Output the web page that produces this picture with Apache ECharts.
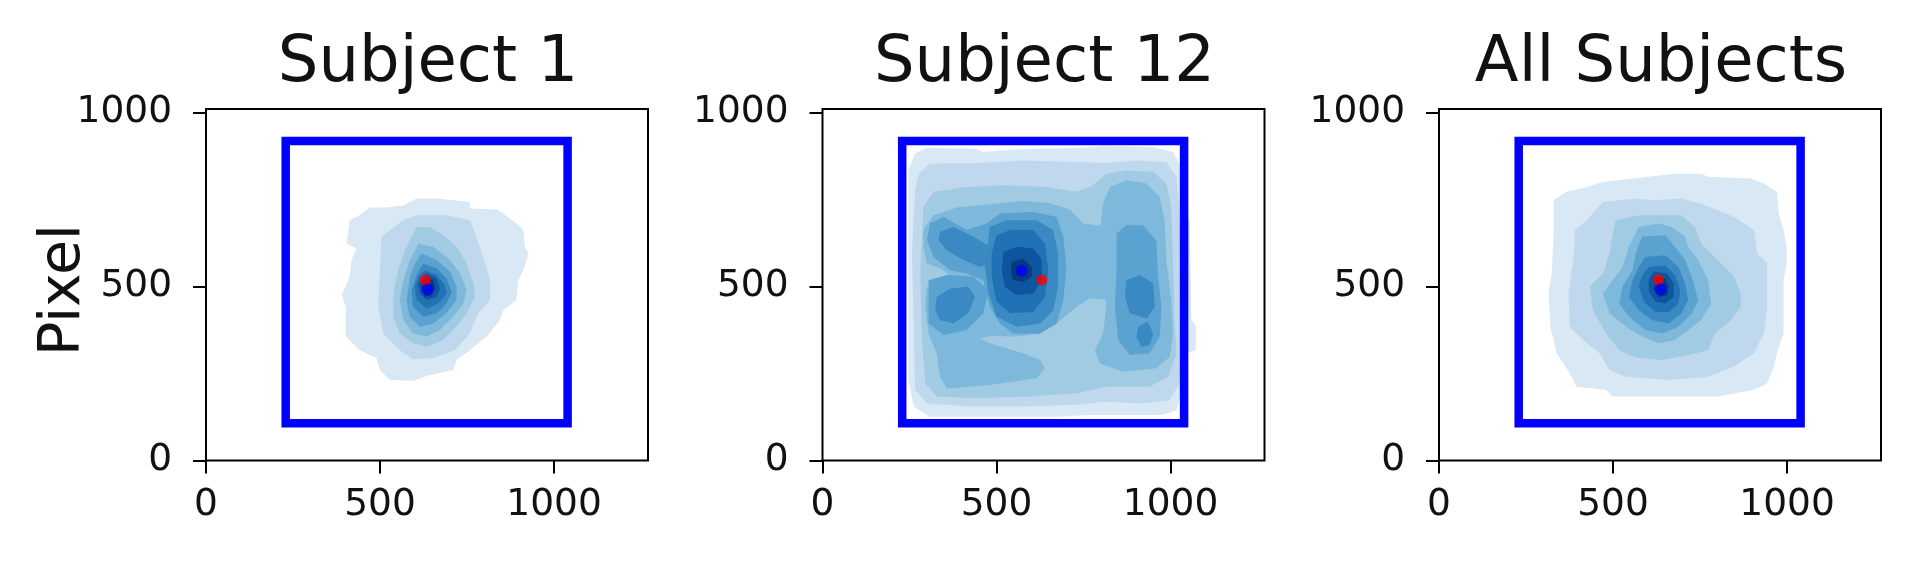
<!DOCTYPE html>
<html><head><meta charset="utf-8">
<script src="https://cdn.jsdelivr.net/npm/echarts@6/dist/echarts.min.js"></script>
<style>html,body{margin:0;padding:0;background:#fff}#c{width:1920px;height:579px}</style>
</head><body><div id="c"></div>
<script>
// ---------- data ----------
const panelTitles = ['Subject 1', 'Subject 12', 'All Subjects'];
const yAxisTitle = 'Pixel';
const xTicks = [0, 500, 1000];
const yTicks = [0, 500, 1000];
const xMax = 1270;
const yMax = 1010;
// KDE fill colours, level 1 (outermost) .. level 9 (peak)
const levelColors = ['#d9e8f5', '#c0d8ed', '#a1cbe2', '#7eb8da', '#5aa2cf', '#3b89c2', '#2171b5', '#0d559f', '#083a7a'];
// stimulus box corners (x, y)
const boxX = [229, 1039, 1039, 229, 229];
const boxY = [107, 107, 918, 918, 107];
// red target point and blue mean-gaze point per panel
const targetPoint = [630, 519];
const gazeS1 = [637, 491];
const gazeS12 = [572, 545];
const gazeAll = [637, 491];
// contour polygons: [level, [[x,y],...]]
const contoursS1 = [
 [1, [[413,690],[404,623],[433,609],[418,576],[413,528],[390,475],[402,442],[402,356],[442,317],[490,294],[500,260],[528,231],[595,229],[643,246],[710,260],[720,289],[758,317],[806,356],[845,404],[854,432],[892,461],[897,518],[916,557],[926,595],[916,614],[912,662],[892,681],[854,710],[835,721],[758,724],[758,743],[663,753],[605,753],[567,733],[519,727],[471,727],[433,700]]],
 [2, [[504,643],[567,690],[605,705],[691,705],[758,690],[773,652],[797,585],[816,518],[816,461],[782,423],[758,365],[715,317],[653,294],[595,291],[557,317],[509,365],[495,442],[500,557]]],
 [3, [[605,671],[643,671],[682,647],[720,614],[749,566],[768,509],[773,470],[749,423],[720,384],[682,346],[634,327],[595,337],[557,365],[538,413],[538,480],[552,547],[576,614]]],
 [4, [[610,623],[653,614],[701,576],[730,537],[749,490],[739,451],[710,413],[672,375],[634,356],[595,365],[567,404],[557,461],[567,518],[586,576]]],
 [5, [[619,595],[663,576],[701,542],[720,499],[720,461],[691,423],[653,394],[615,384],[586,413],[576,461],[586,528],[600,566]]],
 [6, [[624,566],[663,552],[691,523],[706,485],[691,451],[663,423],[624,413],[595,442],[591,490],[605,533]]],
 [7, [[629,547],[663,533],[686,504],[691,480],[667,451],[634,437],[605,461],[600,499],[610,528]]],
 [8, [[634,537],[663,523],[672,494],[663,470],[634,461],[615,480],[610,509]]],
 [9, [[634,528],[653,518],[658,494],[648,475],[629,470],[619,494],[622,518]]]
];
const contoursS12 = [
 [1, [[247,834],[266,882],[300,899],[443,896],[462,886],[510,891],[596,896],[749,899],[806,903],[950,901],[1007,886],[1031,843],[1036,738],[1055,690],[1060,404],[1074,384],[1072,317],[1041,308],[1036,212],[1017,145],[978,131],[768,131],[673,126],[481,126],[309,126],[262,155],[247,231]]],
 [2, [[266,777],[276,824],[309,853],[443,855],[577,862],[730,858],[816,855],[902,862],[988,858],[1017,815],[1026,710],[1036,404],[1041,308],[1026,222],[998,174],[921,164],[806,169],[730,160],[577,155],[424,155],[300,164],[266,203],[262,404],[257,595]]],
 [3, [[290,729],[319,772],[414,786],[529,791],[644,786],[730,772],[778,791],[816,824],[873,834],[950,829],[988,796],[1002,729],[1007,576],[1012,384],[1017,308],[993,241],[940,212],[816,212],[730,193],[596,184],[434,179],[328,184],[295,222],[285,365],[281,547]]],
 [4, [[290,662],[319,705],[386,727],[481,736],[577,746],[653,740],[711,721],[749,681],[826,671],[826,461],[768,466],[730,442],[673,394],[625,365],[558,356],[481,358],[453,351],[481,337],[577,308],[625,289],[639,265],[615,236],[481,217],[357,207],[338,241],[328,308],[305,365],[295,442],[300,499],[338,518],[362,537],[338,552],[300,566],[290,614]]],
 [4, [[797,662],[806,738],[826,786],[873,805],[931,796],[969,757],[983,690],[988,576],[1002,461],[1007,365],[998,298],[959,265],[864,255],[797,279],[783,317],[806,365],[816,442],[806,547]]],
 [5, [[309,681],[348,700],[414,662],[472,681],[510,710],[606,714],[673,700],[692,643],[701,556],[692,461],[673,394],[625,365],[548,365],[510,394],[481,442],[462,518],[414,537],[367,547],[319,585],[300,633]]],
 [5, [[305,518],[357,533],[434,528],[477,490],[462,423],[414,375],[348,360],[305,394]]],
 [5, [[845,652],[873,676],[921,676],[959,633],[964,528],[974,442],[969,356],[940,308],[883,303],[850,346],[840,442],[845,547]]],
 [6, [[481,671],[529,690],[615,690],[663,662],[677,595],[677,499],[663,432],[625,394],[558,384],[500,413],[477,480],[467,556]]],
 [6, [[338,657],[376,671],[434,643],[481,614],[486,566],[453,556],[405,576],[357,604],[333,633]]],
 [6, [[328,470],[367,494],[419,499],[438,470],[419,423],[376,394],[338,404],[324,432]]],
 [6, [[873,518],[912,533],[950,509],[955,442],[931,408],[883,423],[869,470]]],
 [6, [[907,384],[935,399],[950,365],[940,332],[916,327],[902,356]]],
 [7, [[500,647],[539,662],[606,662],[639,623],[649,547],[639,470],[606,427],[539,423],[500,456],[486,528],[486,595]]],
 [8, [[520,600],[558,614],[606,609],[630,576],[630,518],[606,480],[558,475],[524,499],[515,547]]],
 [9, [[544,571],[577,580],[601,556],[601,528],[577,513],[548,518],[541,542]]]
];
const contoursAll = [
 [1, [[329,748],[367,772],[424,786],[471,800],[556,810],[678,824],[754,824],[773,815],[896,810],[933,796],[971,772],[976,710],[990,662],[999,614],[999,566],[990,518],[990,365],[971,308],[962,270],[943,222],[905,203],[801,184],[631,184],[499,184],[480,203],[395,212],[376,250],[338,308],[320,384],[315,480],[324,537],[329,643]]],
 [2, [[390,662],[424,690],[471,743],[565,753],[612,748],[697,753],[754,738],[801,719],[848,700],[905,662],[914,595],[943,566],[943,442],[933,365],[905,308],[848,270],[773,241],[660,231],[537,241],[490,260],[461,308],[414,346],[376,384],[372,480],[386,576],[390,633]]],
 [3, [[508,690],[574,705],[697,705],[735,671],[754,623],[801,576],[848,528],[867,480],[867,442],[839,404],[792,365],[773,317],[716,303],[641,289],[565,296],[518,317],[480,365],[442,432],[433,499],[471,537],[490,595],[499,652]]],
 [4, [[574,671],[631,681],[669,671],[707,643],[716,614],[745,576],[773,518],[782,451],[754,404],[716,375],[678,346],[631,337],[584,356],[537,384],[490,423],[471,480],[499,518],[527,556],[546,614]]],
 [5, [[584,643],[650,647],[678,614],[707,576],[726,528],[745,461],[726,423],[688,384],[641,365],[593,375],[546,413],[518,451],[527,499],[556,547],[565,595]]],
 [6, [[593,585],[650,590],[688,556],[707,509],[716,461],[697,423],[660,394],[612,404],[574,432],[546,470],[556,518],[574,556]]],
 [7, [[603,556],[650,561],[678,532],[693,490],[688,451],[660,427],[622,427],[589,456],[574,499],[584,532]]],
 [8, [[617,542],[655,537],[674,509],[674,470],[650,451],[622,456],[603,485],[603,518]]],
 [9, [[626,528],[650,523],[660,499],[655,475],[631,470],[617,494]]]
];

// ---------- chart ----------
const panels = [
  { title: panelTitles[0], contours: contoursS1, gaze: gazeS1 },
  { title: panelTitles[1], contours: contoursS12, gaze: gazeS12 },
  { title: panelTitles[2], contours: contoursAll, gaze: gazeAll }
];
const gridLefts = [206, 822.5, 1439];
const gridW = 442, gridTop = 109, gridH = 351.5;
const FONT = 'DejaVu Sans';
const boxData = boxX.map((x, i) => [x, boxY[i]]);
const plainNumber = v => String(v);

const series = [];
panels.forEach((p, i) => {
  series.push({
    type: 'custom', xAxisIndex: i, yAxisIndex: i, silent: true, z: 1,
    data: p.contours.map(c => c[1][0]),
    renderItem: (params, api) => {
      const c = p.contours[params.dataIndex];
      return { type: 'polygon', shape: { points: c[1].map(pt => api.coord(pt)) },
               style: { fill: levelColors[c[0] - 1] } };
    }
  });
  series.push({
    type: 'line', xAxisIndex: i, yAxisIndex: i, silent: true, z: 3,
    data: boxData, symbol: 'none',
    lineStyle: { color: '#0000ff', width: 8.5, cap: 'square', join: 'miter' }
  });
  series.push({
    type: 'scatter', xAxisIndex: i, yAxisIndex: i, silent: true, z: 4,
    data: [targetPoint], symbol: 'circle', symbolSize: 11,
    itemStyle: { color: '#ff0000' }
  });
  series.push({
    type: 'scatter', xAxisIndex: i, yAxisIndex: i, silent: true, z: 5,
    data: [p.gaze], symbol: 'circle', symbolSize: 12,
    itemStyle: { color: '#0000ff' }
  });
});

const option = {
  animation: false,
  backgroundColor: '#ffffff',
  title: panels.map((p, i) => ({
    text: p.title, left: gridLefts[i] + gridW / 2 - 4, top: 27, textAlign: 'center',
    textStyle: { fontFamily: FONT, fontSize: 64, fontWeight: 'normal', color: '#111', lineHeight: 64 }
  })),
  grid: gridLefts.map(l => ({
    left: l, top: gridTop, width: gridW, height: gridH, show: true,
    borderColor: '#000', borderWidth: 2, backgroundColor: 'transparent',
    containLabel: false, outerBoundsMode: 'none'
  })),
  xAxis: gridLefts.map((l, i) => ({
    type: 'value', gridIndex: i, min: 0, max: xMax,
    axisLine: { show: false }, splitLine: { show: false },
    axisTick: { show: true, length: 13, lineStyle: { color: '#000', width: 2 }, customValues: xTicks },
    axisLabel: { customValues: xTicks, formatter: plainNumber, margin: 26, fontFamily: FONT, fontSize: 37.5, color: '#111' }
  })),
  yAxis: gridLefts.map((l, i) => ({
    type: 'value', gridIndex: i, min: 0, max: yMax,
    axisLine: { show: false }, splitLine: { show: false },
    axisTick: { show: true, length: 13, lineStyle: { color: '#000', width: 2 }, customValues: yTicks },
    axisLabel: { customValues: yTicks, formatter: plainNumber, margin: 34, fontFamily: FONT, fontSize: 37.5, color: '#111' }
  })),
  graphic: [{
    type: 'text', x: 64, y: 290, rotation: Math.PI / 2, silent: true,
    style: { text: yAxisTitle, fontSize: 57, fontFamily: FONT, fill: '#111',
             align: 'center', verticalAlign: 'middle', textAlign: 'center', textVerticalAlign: 'middle' }
  }],
  series: series
};
const chart = echarts.init(document.getElementById('c'), null, { renderer: 'canvas' });
chart.setOption(option);
</script></body></html>
